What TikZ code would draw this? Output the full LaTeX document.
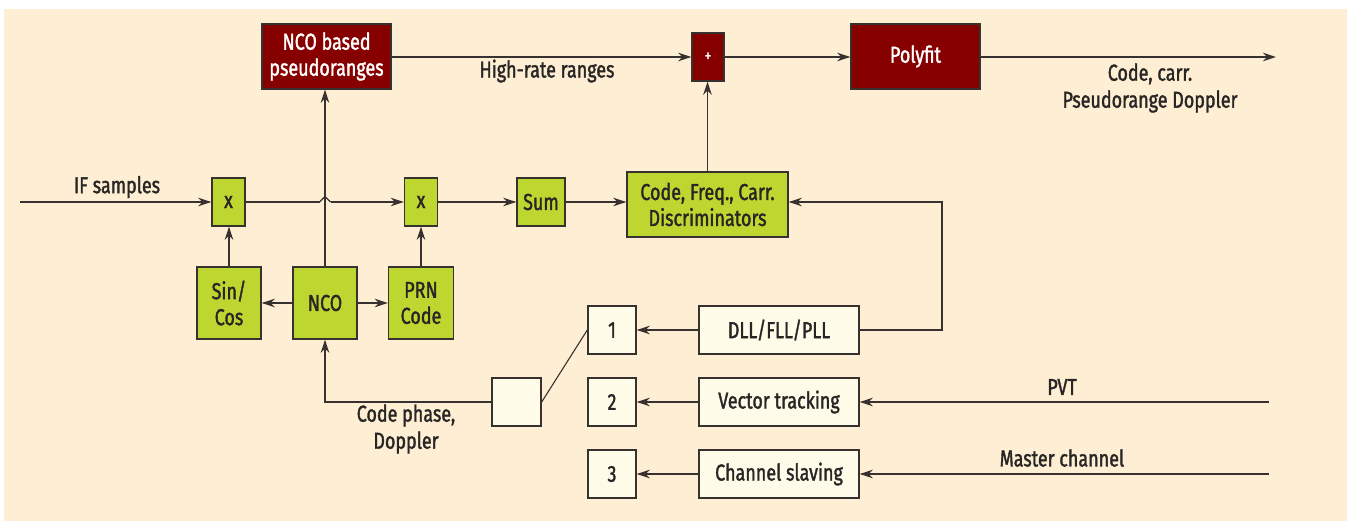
\documentclass[tikz,border=0pt]{standalone}
\usepackage{fontspec}
\setmainfont{Fira Sans}[FakeStretch=0.78, FakeBold=1.5]
\usetikzlibrary{arrows.meta,positioning}

\definecolor{bgcream}{RGB}{254,238,211}
\definecolor{limebox}{RGB}{190,215,48}
\definecolor{maroonbox}{RGB}{135,0,0}
\definecolor{palebox}{RGB}{255,251,233}
\definecolor{inkline}{RGB}{55,50,48}
\definecolor{inktext}{RGB}{40,38,36}

\tikzset{
  blk/.style={draw=inkline, line width=1.4pt, rectangle, inner sep=0pt,
    align=center, text=inktext, font=\fontsize{23}{26}\selectfont},
  lime/.style={blk, fill=limebox},
  maroon/.style={blk, fill=maroonbox, text=white},
  pale/.style={blk, fill=palebox},
  wire/.style={draw=inkline, line width=1.4pt},
  flow/.style={wire, -{Stealth[length=13pt,width=8.5pt,inset=4pt]}},
  lbl/.style={text=inktext, align=center, inner sep=0pt,
    font=\fontsize{23}{27}\selectfont},
}

\begin{document}
\begin{tikzpicture}[x=1pt, y=-1pt]
  % page and panel
  \useasboundingbox (0,0) rectangle (1347,521);
  \fill[white] (0,0) rectangle (1347,521);
  \fill[bgcream] (4,9) rectangle (1347,521);

  % upper chain
  \node[maroon, minimum width=129pt, minimum height=65pt] (ncopr) at (326.5,56.5) {NCO based\\pseudoranges};
  \node[maroon, minimum width=32pt, minimum height=48pt, font=\fontsize{17}{19}\selectfont] (plus) at (708,57) {+};
  \node[maroon, minimum width=129pt, minimum height=65pt] (poly) at (915.5,56.5) {Polyfit};
  \coordinate (out) at (1276,57);

  % correlator chain
  \coordinate (ifin) at (20,202);
  \node[lime, minimum width=33pt, minimum height=48pt] (mix1) at (228.5,202) {x};
  \node[lime, minimum width=33pt, minimum height=48pt] (mix2) at (421,202) {x};
  \node[lime, minimum width=48pt, minimum height=48pt] (sum) at (541,202) {Sum};
  \node[lime, minimum width=161pt, minimum height=65pt] (disc) at (707.5,204.5) {Code, Freq., Carr.\\Discriminators};
  \coordinate (hopL) at (319.5,202);
  \coordinate (hopT) at (325,196.5);
  \coordinate (hopR) at (330.5,202);

  % oscillator row
  \node[lime, minimum width=64pt, minimum height=72pt] (sincos) at (229,303) {Sin/\\Cos};
  \node[lime, minimum width=64pt, minimum height=72pt] (nco) at (325,303) {NCO};
  \node[lime, minimum width=65pt, minimum height=72pt] (prn) at (421,303) {PRN\\Code};

  % tracking modes and selector
  \node[pale, minimum width=48pt, minimum height=48pt] (m1) at (612,330) {1};
  \node[pale, minimum width=48pt, minimum height=48pt] (m2) at (612,402) {2};
  \node[pale, minimum width=48pt, minimum height=48pt] (m3) at (612,474) {3};
  \node[pale, minimum width=49pt, minimum height=48pt] (sel) at (516.5,402) {};
  \node[pale, minimum width=160pt, minimum height=48pt] (dll) at (779,330) {DLL/FLL/PLL};
  \node[pale, minimum width=160pt, minimum height=48pt] (vec) at (779,402) {Vector tracking};
  \node[pale, minimum width=160pt, minimum height=48pt] (slave) at (779,474) {Channel slaving};
  \coordinate (pvtin) at (1269,402);
  \coordinate (mstin) at (1269,474);
  \coordinate (fbk) at (942,330);

  % connectors
  \draw[flow] (ncopr.east |- plus.west) -- (plus.west);
  \draw[flow] (plus.east) -- (poly.west |- plus.east);
  \draw[flow] (poly.east |- out) -- (out);
  \draw[flow] (ifin) -- (mix1.west);
  \draw[wire] (mix1.east) -- (hopL);
  \draw[wire] (hopL) -- (hopT) -- (hopR);
  \draw[flow] (hopR) -- (mix2.west);
  \draw[flow] (mix2.east) -- (sum.west);
  \draw[flow] (sum.east) -- (sum.east -| disc.west);
  \draw[flow] (disc.north) -- (disc.north |- plus.south);
  \draw[flow] (nco.north) -- (nco.north |- ncopr.south);
  \draw[flow] (sincos.north) -- (sincos.north |- mix1.south);
  \draw[flow] (prn.north) -- (prn.north |- mix2.south);
  \draw[flow] (nco.west) -- (sincos.east);
  \draw[flow] (nco.east) -- (prn.west);
  \draw[flow] (sel.west) -| (nco.south);
  \draw[wire, line width=1.1pt] (sel.east) -- (m1.west);
  \draw[flow] (dll.west) -- (m1.east);
  \draw[flow] (vec.west) -- (m2.east);
  \draw[flow] (slave.west) -- (m3.east);
  \draw[flow] (dll.east) -- (fbk) |- (sum.east -| disc.east);
  \draw[flow] (pvtin) -- (vec.east);
  \draw[flow] (mstin) -- (slave.east);

  % labels
  \node[lbl] (lif) at (117,187) {IF samples};
  \node[lbl] (lhr) at (547,71) {High-rate ranges};
  \node[lbl] (lout) at (1150,88) {Code, carr.\\Pseudorange Doppler};
  \node[lbl] (lcp) at (406,429) {Code phase,\\Doppler};
  \node[lbl] (lpvt) at (1062,387) {PVT};
  \node[lbl] (lmst) at (1062,458) {Master channel};
\end{tikzpicture}
\end{document}
